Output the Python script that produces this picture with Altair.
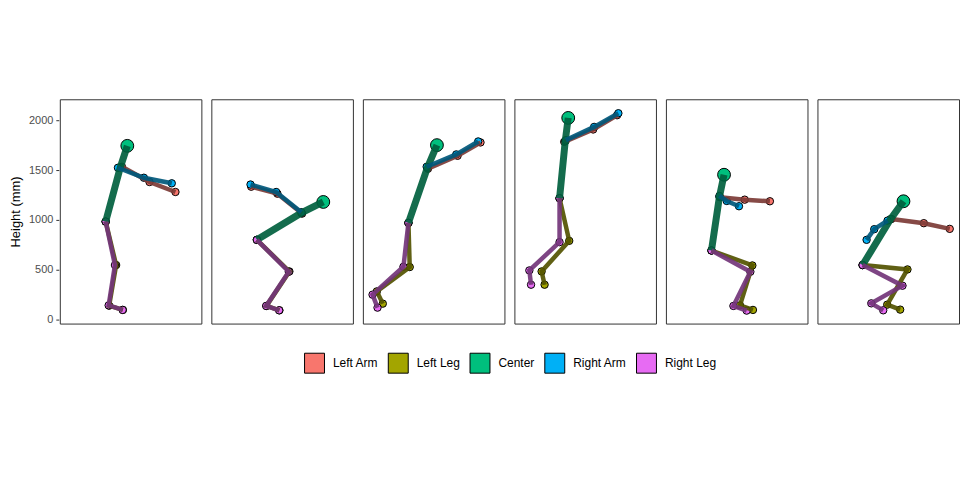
import altair as alt
import pandas as pd

groups = ["Left Arm", "Left Leg", "Center", "Right Arm", "Right Leg"]
fill_colors = ["#F8766D", "#A3A500", "#00BF7D", "#00B0F6", "#E76BF3"]
line_colors = ["#7C3B36", "#525200", "#005F3E", "#00587B", "#733579"]
line_widths = [4.5, 4.5, 7, 4.5, 4.5]

# per frame, joint coordinates (x, height) in mm
left_arm_x = [[623, 900, 1160], [910, 663, 400], [653, 950, 1180], [500, 790, 1030], [543, 790, 1043], [743, 1067, 1327]]
left_arm_y = [[1533, 1380, 1280], [1063, 1263, 1333], [1513, 1643, 1777], [1783, 1907, 2050], [1227, 1203, 1187], [1010, 967, 910]]
right_arm_x = [[583, 843, 1123], [903, 650, 393], [640, 937, 1157], [517, 800, 1043], [537, 610, 733], [703, 570, 493]]
right_arm_y = [[1523, 1423, 1367], [1077, 1280, 1355], [1533, 1657, 1787], [1800, 1933, 2070], [1240, 1190, 1137], [993, 907, 800]]
center_x = [[677, 607, 460], [1123, 903, 457], [743, 647, 457], [540, 510, 453], [583, 537, 457], [863, 733, 453]]
center_y = [[1743, 1527, 983], [1180, 1070, 800], [1750, 1523, 970], [2023, 1790, 1217], [1453, 1233, 693], [1187, 1007, 547]]
left_leg_x = [[460, 565, 495, 633], [457, 783, 553, 683], [457, 470, 140, 200], [453, 550, 273, 303], [457, 867, 743, 873], [453, 903, 700, 830]]
left_leg_y = [[983, 547, 140, 97], [800, 483, 137, 93], [970, 527, 283, 160], [1217, 790, 483, 350], [693, 543, 143, 97], [547, 503, 150, 100]]
right_leg_x = [[460, 553, 490, 630], [457, 777, 550, 680], [457, 407, 97, 147], [453, 453, 150, 167], [457, 847, 677, 810], [453, 853, 540, 660]]
right_leg_y = [[983, 547, 143, 97], [800, 480, 137, 93], [970, 530, 250, 120], [1217, 777, 493, 350], [693, 480, 137, 90], [547, 340, 163, 93]]

frames = [1, 2, 3, 4, 5, 6]
y_ticks = [0, 500, 1000, 1500, 2000]

data_x = {"Left Arm": left_arm_x, "Left Leg": left_leg_x, "Center": center_x,
          "Right Arm": right_arm_x, "Right Leg": right_leg_x}
data_y = {"Left Arm": left_arm_y, "Left Leg": left_leg_y, "Center": center_y,
          "Right Arm": right_arm_y, "Right Leg": right_leg_y}

rows = []
for fi, fr in enumerate(frames):
    for gi, g in enumerate(groups):
        xs = data_x[g][fi]
        ys = data_y[g][fi]
        for k, (xv, yv) in enumerate(zip(xs, ys)):
            rows.append({
                "frame": fr, "group": g, "gorder": gi, "idx": k,
                "key": f"{fr}-{gi}", "x": xv, "y": yv,
                "lc": line_colors[gi], "sw": line_widths[gi],
                "sz": 165 if (g == "Center" and k == 0) else 55,
            })
df = pd.DataFrame(rows)

xs = alt.Scale(domain=[0, 1420], nice=False, zero=False)
ys = alt.Scale(domain=[-40, 2210], nice=False, zero=False)

base = alt.Chart().encode(
    x=alt.X("x:Q", scale=xs, axis=None),
    y=alt.Y("y:Q", scale=ys, title="Height (mm)",
            axis=alt.Axis(values=y_ticks, format="d", grid=False, tickColor="#333333", tickSize=3,
                          labelColor="#4D4D4D", labelFontSize=11, labelPadding=3,
                          titleFontSize=13, titleFontWeight="normal", titleColor="black",
                          titlePadding=6, domain=False, labelFont="Liberation Sans",
                          titleFont="Liberation Sans")),
)

points = base.mark_point(filled=True, shape="circle", stroke="black", strokeWidth=1, opacity=1).encode(
    fill=alt.Fill("group:N", scale=alt.Scale(domain=groups, range=fill_colors),
                  legend=alt.Legend(title=None, orient="none", direction="horizontal",
                                    legendX=245, legendY=254, symbolType="square",
                                    symbolSize=400, symbolStrokeColor="black", symbolStrokeWidth=1,
                                    labelFontSize=12, labelFont="Liberation Sans",
                                    labelColor="black", labelOffset=8, columnPadding=7,
                                    symbolOpacity=1)),
    size=alt.Size("sz:Q", scale=None),
    order=alt.Order("gorder:Q"),
)

lines = base.mark_line(opacity=0.92, strokeCap="butt").encode(
    color=alt.Color("lc:N", scale=None),
    strokeWidth=alt.StrokeWidth("sw:Q", scale=None),
    detail="key:N",
    order=alt.Order("idx:Q"),
)

layer = alt.layer(points, lines).properties(width=142, height=225)

chart = layer.facet(
    column=alt.Column("frame:O", header=alt.Header(labels=False, title=None)),
    data=df,
    spacing=8,
).configure(
    padding={"left": 9, "top": 98, "right": 0, "bottom": 0},
    view=alt.ViewConfig(stroke="#333333", strokeWidth=1),
    axis=alt.AxisConfig(domain=False),
)

chart.save("out.html", embed_options={"renderer": "svg", "actions": False})
